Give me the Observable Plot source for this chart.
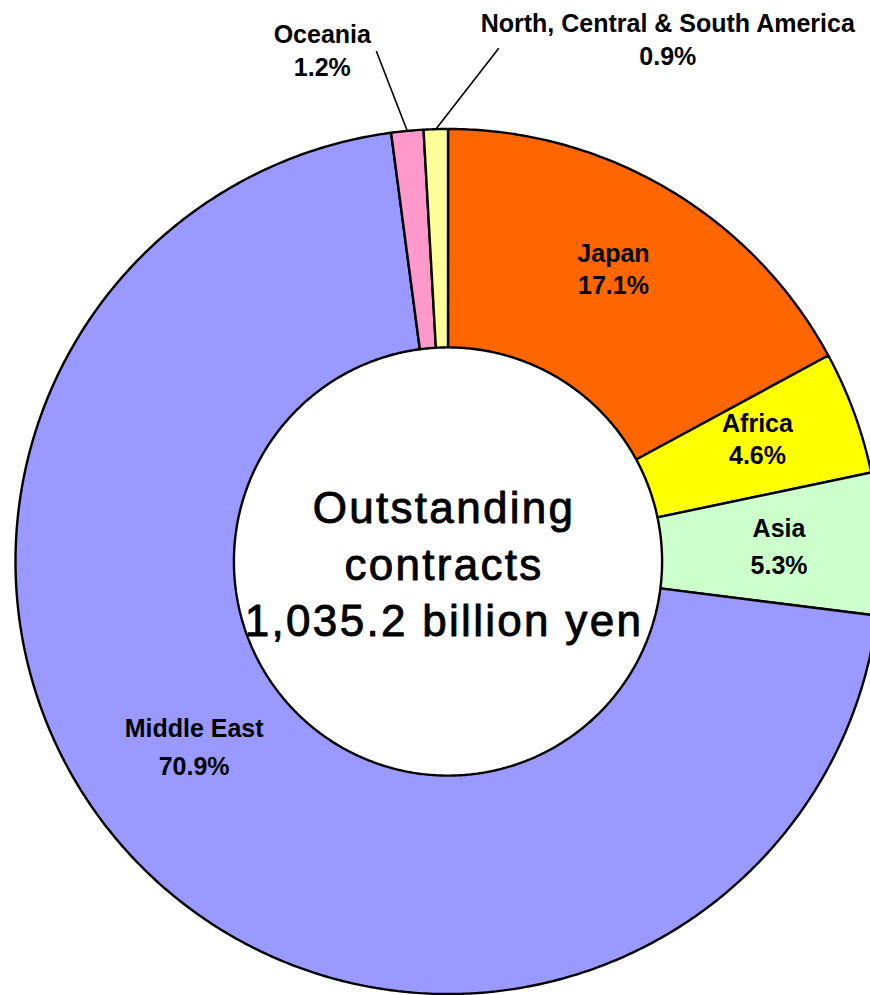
<!DOCTYPE html>
<html>
<head>
<meta charset="utf-8">
<script src="https://cdn.jsdelivr.net/npm/d3@7"></script>
<script src="https://cdn.jsdelivr.net/npm/@observablehq/plot@0.6"></script>
<style>
  html, body { margin: 0; padding: 0; background: #fff; overflow: hidden; }
  svg { overflow: hidden; display: block; }
</style>
</head>
<body>
<div id="chart"></div>
<script>
// ---- data ----
const regions = ["Japan", "Africa", "Asia", "Middle East", "Oceania", "North, Central & South America"];
const shares = [17.1, 4.6, 5.3, 70.9, 1.2, 0.9];
const colors = ["#FF6600", "#FFFF00", "#CCFFCC", "#9999FF", "#FF99CC", "#FFFF99"];
const centerLines = ["Outstanding", "contracts", "1,035.2 billion yen"];

// ---- layout ----
const W = 870, H = 995;
const cx = 447.5, cy = 561, R = 432.5;
const hole = 0.495;                 // inner radius / outer radius
const insideThreshold = 2;          // slices smaller than this get callouts
// pixel nudges for label placement (layout only)
const labelNudge = {"Japan": [0, -16], "Africa": [6, -12], "Asia": [8, -5], "Middle East": [-26, -47]};
const labelLineHeight = {"Japan": 1.28, "Africa": 1.28, "Asia": 1.5, "Middle East": 1.5};
const callout = {
  "Oceania": {line: [-31, -80], text: [-85, -82]},
  "North, Central & South America": {line: [63, -81], text: [232, -91]}
};

const arcs = d3.pie().sort(null).value(d => d)(shares);
const step = Math.PI / 360;

// slice outlines sampled along the arcs (data space: outer radius = 1)
const slicePts = [];
arcs.forEach((a, i) => {
  const n = Math.max(2, Math.ceil((a.endAngle - a.startAngle) / step));
  for (let j = 0; j <= n; j++) {
    const t = a.startAngle + (a.endAngle - a.startAngle) * j / n;
    slicePts.push({region: regions[i], x: Math.sin(t), y: Math.cos(t)});
  }
  for (let j = n; j >= 0; j--) {
    const t = a.startAngle + (a.endAngle - a.startAngle) * j / n;
    slicePts.push({region: regions[i], x: hole * Math.sin(t), y: hole * Math.cos(t)});
  }
});

const fmt = v => v.toFixed(1) + "%";
const insideLabels = [], outsideLabels = [], leaders = [];
arcs.forEach((a, i) => {
  const mid = (a.startAngle + a.endAngle) / 2;
  const name = regions[i];
  if (shares[i] >= insideThreshold) {
    const rr = (1 + hole) / 2;
    const nd = labelNudge[name] || [0, 0];
    insideLabels.push({
      x: rr * Math.sin(mid) + nd[0] / R,
      y: rr * Math.cos(mid) - nd[1] / R,
      text: name + "\n" + fmt(shares[i]),
      lh: labelLineHeight[name] || 1.3
    });
  } else {
    const x0 = Math.sin(mid), y0 = Math.cos(mid);
    const c = callout[name] || {line: [0, -60], text: [0, -80]};
    leaders.push({x1: x0, y1: y0, x2: x0 + c.line[0] / R, y2: y0 - c.line[1] / R});
    outsideLabels.push({x: x0 + c.text[0] / R, y: y0 - c.text[1] / R, text: name + "\n" + fmt(shares[i])});
  }
});

const labelFont = {fontSize: 25, fontWeight: "bold", fontFamily: "Liberation Sans, Arial, sans-serif", fill: "#000"};

const chart = Plot.plot({
  width: W,
  height: H,
  margin: 0,
  x: {domain: [-1, 1], range: [cx - R, cx + R], axis: null},
  y: {domain: [-1, 1], range: [cy + R, cy - R], axis: null},
  color: {domain: regions, range: colors},
  style: {background: "#fff", overflow: "hidden"},
  marks: [
    Plot.line(slicePts, {
      x: "x", y: "y", z: "region", fill: "region",
      stroke: "#000", strokeWidth: 2.4, curve: "linear-closed", strokeLinejoin: "miter"
    }),
    Plot.link(leaders, {x1: "x1", y1: "y1", x2: "x2", y2: "y2", stroke: "#000", strokeWidth: 1.6}),
    ...insideLabels.map(d => Plot.text([d], {x: "x", y: "y", text: "text", lineHeight: d.lh, ...labelFont})),
    Plot.text(outsideLabels, {x: "x", y: "y", text: "text", lineHeight: 1.33, ...labelFont}),
    Plot.text([centerLines.join("\n")], {
      x: () => 0, y: () => 0, text: d => d, fill: "#000", stroke: "#000", strokeWidth: 0.9,
      dx: -4, dy: 0,
      fontSize: 44, fontFamily: "Liberation Sans, Arial, sans-serif", lineHeight: 1.28,
      ariaDescription: "center-text"
    })
  ]
});

d3.select(chart).selectAll('g[aria-description="center-text"] text').attr("letter-spacing", "2.3px");
document.getElementById("chart").appendChild(chart);
</script>
</body>
</html>
